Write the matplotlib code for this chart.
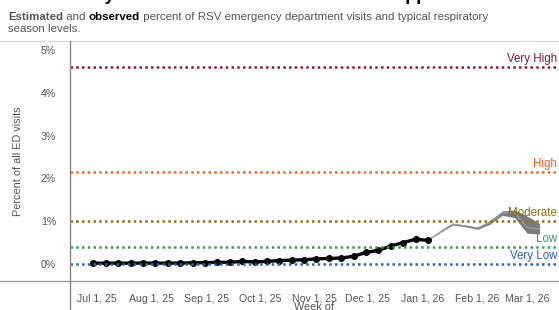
import numpy as np
import pandas as pd
import matplotlib
matplotlib.use("Agg")
import matplotlib.pyplot as plt
from matplotlib.lines import Line2D

plt.rcParams['font.family'] = ['Liberation Sans', 'DejaVu Sans']

# observed weekly % of ED visits (weeks starting Jun 29 2025 .. Jan 4 2026)
obs_weeks = pd.date_range('2025-06-29', periods=28, freq='7D')
obs_vals = [0.02, 0.02, 0.02, 0.02, 0.02, 0.02, 0.02, 0.02, 0.03, 0.03,
            0.04, 0.04, 0.06, 0.05, 0.06, 0.08, 0.09, 0.10, 0.12, 0.13,
            0.14, 0.18, 0.27, 0.32, 0.42, 0.50, 0.58, 0.55]

# estimated (nowcast / projection) with interval
est_weeks = pd.date_range('2026-01-04', periods=10, freq='7D')
est_mid = [0.55, 0.75, 0.93, 0.89, 0.84, 0.97, 1.19, 1.20, 0.85, 0.82]
est_lo = [0.55, 0.74, 0.91, 0.87, 0.81, 0.93, 1.14, 1.08, 0.72, 0.70]
est_hi = [0.55, 0.76, 0.95, 0.91, 0.86, 1.02, 1.24, 1.26, 1.12, 0.95]

# typical season levels
levels = ['Very High', 'High', 'Moderate', 'Low', 'Very Low']
level_vals = [4.6, 2.15, 1.0, 0.4, 0.0]
level_cols = ['#8a1c30', '#ec6a26', '#8c7016', '#3a9a5a', '#2b64b3']
level_txt = ['#7a1f38', '#e0622a', '#8c6d12', '#3f9a5e', '#2a60ae']

ytick_vals = [0, 1, 2, 3, 4, 5]
ytick_labels = ['0%', '1%', '2%', '3%', '4%', '5%']
xtick_dates = pd.date_range('2025-07-01', periods=9, freq='MS')
xtick_labels = ['Jul 1, 25', 'Aug 1, 25', 'Sep 1, 25', 'Oct 1, 25', 'Nov 1, 25',
                'Dec 1, 25', 'Jan 1, 26', 'Feb 1, 26', 'Mar 1, 26']

W, H = 559, 310
fig = plt.figure(figsize=(W / 100, H / 100), dpi=100)
ax = fig.add_axes([70 / W, 29 / H, 489 / W, 240 / H])

# band + estimate line
ax.fill_between(est_weeks, est_lo, est_hi, color='#7a7a7a', lw=0, zorder=2)
ax.plot(est_weeks, est_mid, color='#999999', lw=1.0, zorder=2)

# observed
ax.plot(obs_weeks, obs_vals, color='black', lw=2.4, marker='o', ms=4,
        mfc='black', mec='black', zorder=3)

x0 = pd.Timestamp('2025-07-01') - pd.Timedelta(days=15.25)
x1 = pd.Timestamp('2025-07-01') + pd.Timedelta(days=261)
for name, v, c, tc in zip(levels, level_vals, level_cols, level_txt):
    ax.plot([x0, x1], [v, v], color=c, lw=1.8, ls=(0, (1, 1.3)), zorder=4)
    ax.annotate(name, xy=(1, v), xycoords=('axes fraction', 'data'),
                xytext=(-2, 2), textcoords='offset pixels', ha='right',
                va='bottom', color=tc, fontsize=8.3, zorder=5)

ax.set_xlim(x0, x1)
ax.set_ylim(-0.397, 5.21)
ax.set_yticks(ytick_vals)
ax.set_yticklabels(ytick_labels)
ax.set_xticks(xtick_dates)
ax.set_xticklabels(xtick_labels)
ax.tick_params(length=0, labelsize=7.6, labelcolor='#555555')
ax.tick_params(axis='y', pad=10)
ax.tick_params(axis='x', pad=9)
for s in ax.spines.values():
    s.set_visible(False)

ax.set_ylabel('Percent of all ED visits', fontsize=7.8, color='#555555')
ax.yaxis.set_label_coords(-0.096, 0.5)
ax.set_xlabel('Week of', fontsize=7.8, color='#555555')
ax.xaxis.set_label_coords(0.5, -0.088)

# frame lines
fig.add_artist(Line2D([0, 1], [1 - 41 / H, 1 - 41 / H], color='#dddddd', lw=1))
fig.add_artist(Line2D([0, 1], [29 / H, 29 / H], color='#999999', lw=1))
fig.add_artist(Line2D([70 / W, 70 / W], [0, 1 - 41 / H], color='#888888', lw=1))

# title (cut off at top in the reference, only descenders show)
fig.text(8 / W, 1 + 0.5 / H, 'RSV Activity Is Low but Rises as the Season Approaches',
         fontsize=13, fontweight='bold', color='black', va='baseline')

# subtitle with mixed weights
renderer = fig.canvas.get_renderer()
parts = [('Estimated', 'bold', '#555555'), (' and ', 'normal', '#555555'),
         ('observed', 'bold', 'black'),
         (' percent of RSV emergency department visits and typical respiratory', 'normal', '#555555')]
x = 8
for txt, wt, col in parts:
    t = fig.text(x / W, 1 - 19.5 / H, txt, fontsize=8.25, fontweight=wt, color=col,
                 va='baseline')
    x = t.get_window_extent(renderer).x1
fig.text(8 / W, 1 - 32 / H, 'season levels.', fontsize=8.25, color='#555555', va='baseline')

fig.savefig('out.png', dpi=100)
